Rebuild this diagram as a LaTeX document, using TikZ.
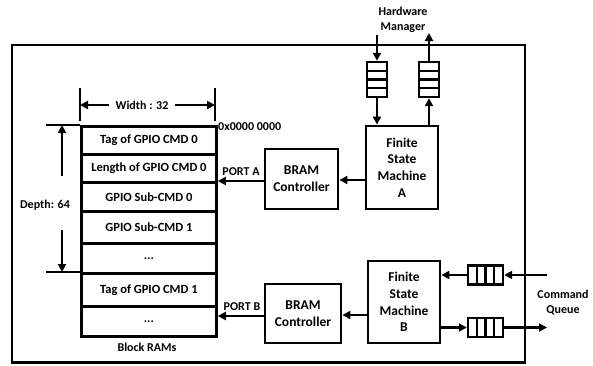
\documentclass[tikz,border=0pt]{standalone}
\usepackage{fontspec}
\setmainfont{Carlito}
\usetikzlibrary{arrows.meta,calc}
\begin{document}
\begin{tikzpicture}[x=1pt,y=-1pt,
  every node/.style={font=\bfseries\fontsize{12}{15}\selectfont, inner sep=0pt},
  boxtext/.style={font=\bfseries\fontsize{13.5}{16.7}\selectfont},
  box/.style={draw, line width=2.8pt, align=center, boxtext},
  row/.style={draw, line width=2.8pt, minimum width=135pt, anchor=north west, font=\bfseries\fontsize{12.5}{15}\selectfont},
  arr/.style={line width=2.2pt, -{Triangle[length=8pt,width=8pt]}},
  bar/.style={line width=2.6pt},
  vfifo/.style={draw, line width=2.4pt, minimum width=20pt, minimum height=35pt,
    path picture={\foreach \i in {1,2,3} \draw[line width=2.2pt]
      ($(path picture bounding box.north west)!\i/4!(path picture bounding box.south west)$) --
      ($(path picture bounding box.north east)!\i/4!(path picture bounding box.south east)$);}},
  hfifo/.style={draw, line width=2.4pt, minimum width=35pt, minimum height=19pt,
    path picture={\foreach \i in {1,2,3} \draw[line width=2.2pt]
      ($(path picture bounding box.north west)!\i/4!(path picture bounding box.north east)$) --
      ($(path picture bounding box.south west)!\i/4!(path picture bounding box.south east)$);}}]
\useasboundingbox (0,0) rectangle (593,365);
% outer frame
\draw[line width=2.8pt] (12,45) rectangle (525,362.5);
% memory table
\node[row, minimum height=28pt] (r1) at (80,125) {Tag of GPIO CMD 0};
\node[row, minimum height=28pt] (r2) at (80,153) {Length of GPIO CMD 0};
\node[row, minimum height=29pt] (r3) at (80,181) {GPIO Sub-CMD 0};
\node[row, minimum height=32pt] (r4) at (80,210) {GPIO Sub-CMD 1};
\node[row, minimum height=30pt] (r5) at (80,242) {...};
\node[row, minimum height=33pt] (r6) at (80,272) {Tag of GPIO CMD 1};
\node[row, minimum height=30pt] (r7) at (80,305) {...};
\node (blk) at (147,347) {Block RAMs};
\node[anchor=west] (addr) at (218,127) {0x0000 0000};
% width
\draw[bar] (80,88) -- (80,121);
\draw[bar] (215,88) -- (215,121);
\node[inner xsep=6pt] (wlab) at (142,105) {Width : 32};
\coordinate (wl) at (80,105);
\coordinate (wr) at (215,105);
\draw[arr] (wlab) -- (wl);
\draw[arr] (wlab) -- (wr);
% depth
\draw[bar] (46,125) -- (r1.north west);
\draw[bar] (46,272) -- (r6.north west);
\node (dlab) at (45,205) {Depth: 64};
\coordinate (dt) at (62,125);
\coordinate (db) at (62,272);
\coordinate (dts) at (62,176);
\coordinate (dbs) at (62,230);
\draw[arr] (dts) -- (dt);
\draw[arr] (dbs) -- (db);
% controllers and FSMs
\node[box, minimum width=73pt, minimum height=60pt] (bA) at (301.5,179) {BRAM\\Controller};
\node[box, minimum width=72pt, minimum height=83pt] (fA) at (402,167.5) {Finite\\State\\Machine\\A};
\node[box, minimum width=76pt, minimum height=59pt] (bB) at (303,313.5) {BRAM\\Controller};
\node[box, minimum width=72pt, minimum height=82pt] (fB) at (404,302) {Finite\\State\\Machine\\B};
\draw[arr] (fA.west |- 0,180) -- (bA.east |- 0,180);
\draw[arr] (bA.west |- r3.north east) -- (r3.north east);
\node (pa) at (241,172) {PORT A};
\draw[arr] (fB.west |- 0,315) -- (bB.east |- 0,315);
\draw[arr] (bB.west |- 0,316) -- (r7.east |- 0,316);
\node (pb) at (242,307) {PORT B};
% hardware manager fifos
\node[vfifo] (q1) at (377,79.5) {};
\node[vfifo] (q2) at (429,79.5) {};
\node[align=center] (hm) at (403,19.5) {Hardware\\Manager};
\coordinate (hmi) at (377,35);
\coordinate (hmo) at (429,33);
\draw[arr] (hmi) -- (q1.north);
\draw[arr] (q1.south) -- (q1.south |- fA.north);
\draw[arr] (q2.south |- fA.north) -- (q2.south);
\draw[arr] (q2.north) -- (hmo);
% command queue fifos
\node[hfifo] (h1) at (485.5,275) {};
\node[hfifo] (h2) at (485.5,327.5) {};
\node[align=center] (cq) at (563,302.5) {Command\\Queue};
\coordinate (cqi) at (547,275);
\coordinate (cqo) at (547,327.5);
\draw[arr] (cqi) -- (h1.east);
\draw[arr] (h1.west) -- (h1.west -| fB.east);
\draw[arr] (fB.east |- h2.west) -- (h2.west);
\draw[arr] (h2.east) -- (cqo);
\end{tikzpicture}
\end{document}
